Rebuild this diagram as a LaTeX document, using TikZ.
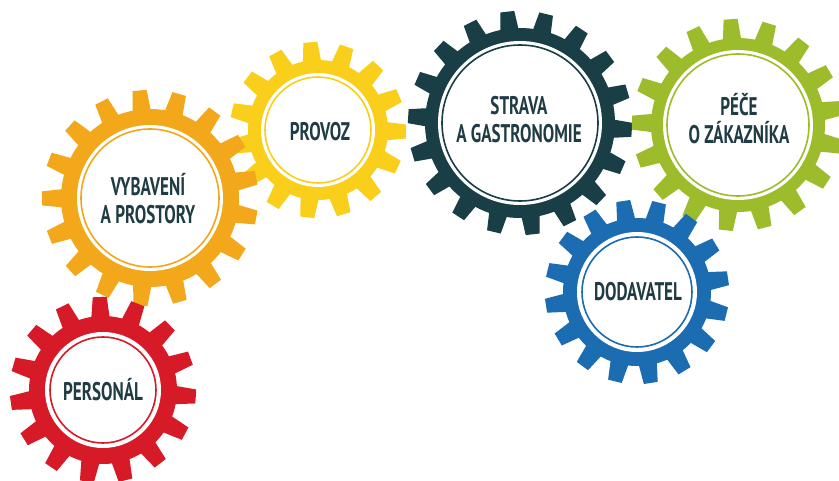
\documentclass[tikz,border=0pt]{standalone}
\usepackage{fontspec}
\usepackage{graphicx}
\newfontfamily\gearfont{PT Sans}
% condensed capitals for the gear captions
\newcommand\squeeze[1]{\scalebox{0.67}[1]{\MakeUppercase{#1}}}
\definecolor{gearred}{HTML}{D71A28}
\definecolor{gearorange}{HTML}{F3A71B}
\definecolor{gearyellow}{HTML}{F9CF1B}
\definecolor{geardark}{HTML}{193E45}
\definecolor{geargreen}{HTML}{9DBC2C}
\definecolor{gearblue}{HTML}{1B6CB0}
\definecolor{ink}{HTML}{1F3C44}
\begin{document}
\begin{tikzpicture}[x=1pt,y=-1pt,
  gearlabel/.style={font=\gearfont\bfseries\fontsize{25.5}{28}\selectfont, text=ink, align=center, inner sep=0pt}]
\useasboundingbox (0,0) rectangle (839,481);
\clip (0,0) rectangle (839,481);
\fill[white] (0,0) rectangle (839,481);

% centre x / centre y / tip radius / root radius / hub radius / rim line radius / teeth / first tooth angle / colour
\foreach \cx/\cy/\rt/\rr/\rw/\rl/\n/\ph/\col in {
    318/130/88/70/57/53/15/95/gearyellow,
    150/198/108/89/73/69/17/95.5/gearorange,
    103/390/93/74/58/53/15/92/gearred,
    520/123/112/95/82/78/18/96.5/geardark,
    738/125/106/87/75/71/17/94/geargreen,
    637/292/92/74/60/55/16/98.6/gearblue}{
  \begin{scope}[shift={(\cx,\cy)}]
    \fill[\col] (0,0) circle[radius=\rr];
    \foreach \k in {1,...,\n}{
      \fill[\col, rotate={\ph-90+\k*360/\n}]
        (-9.3,{-\rr+3}) -- (-7,-\rt) -- (7,-\rt) -- (9.3,{-\rr+3}) -- cycle;
    }
    \fill[white] (0,0) circle[radius=\rw];
    \draw[\col, line width=1.6pt] (0,0) circle[radius=\rl];
  \end{scope}
}

\node[gearlabel] (personal) at (103,390) {\squeeze{PERSON\'AL}};
\node[gearlabel] (vybaveni) at (148,199) {\squeeze{VYBAVEN\'I}\\\squeeze{A PROSTORY}};
\node[gearlabel] (provoz) at (320,132) {\squeeze{PROVOZ}};
\node[gearlabel] (strava) at (519,120) {\squeeze{STRAVA}\\\squeeze{A GASTRONOMIE}};
\node[gearlabel] (pece) at (739,119) {\squeeze{P\'E\v CE}\\\squeeze{O Z\'AKAZN\'IKA}};
\node[gearlabel] (dodavatel) at (638,292) {\squeeze{DODAVATEL}};
\end{tikzpicture}
\end{document}
